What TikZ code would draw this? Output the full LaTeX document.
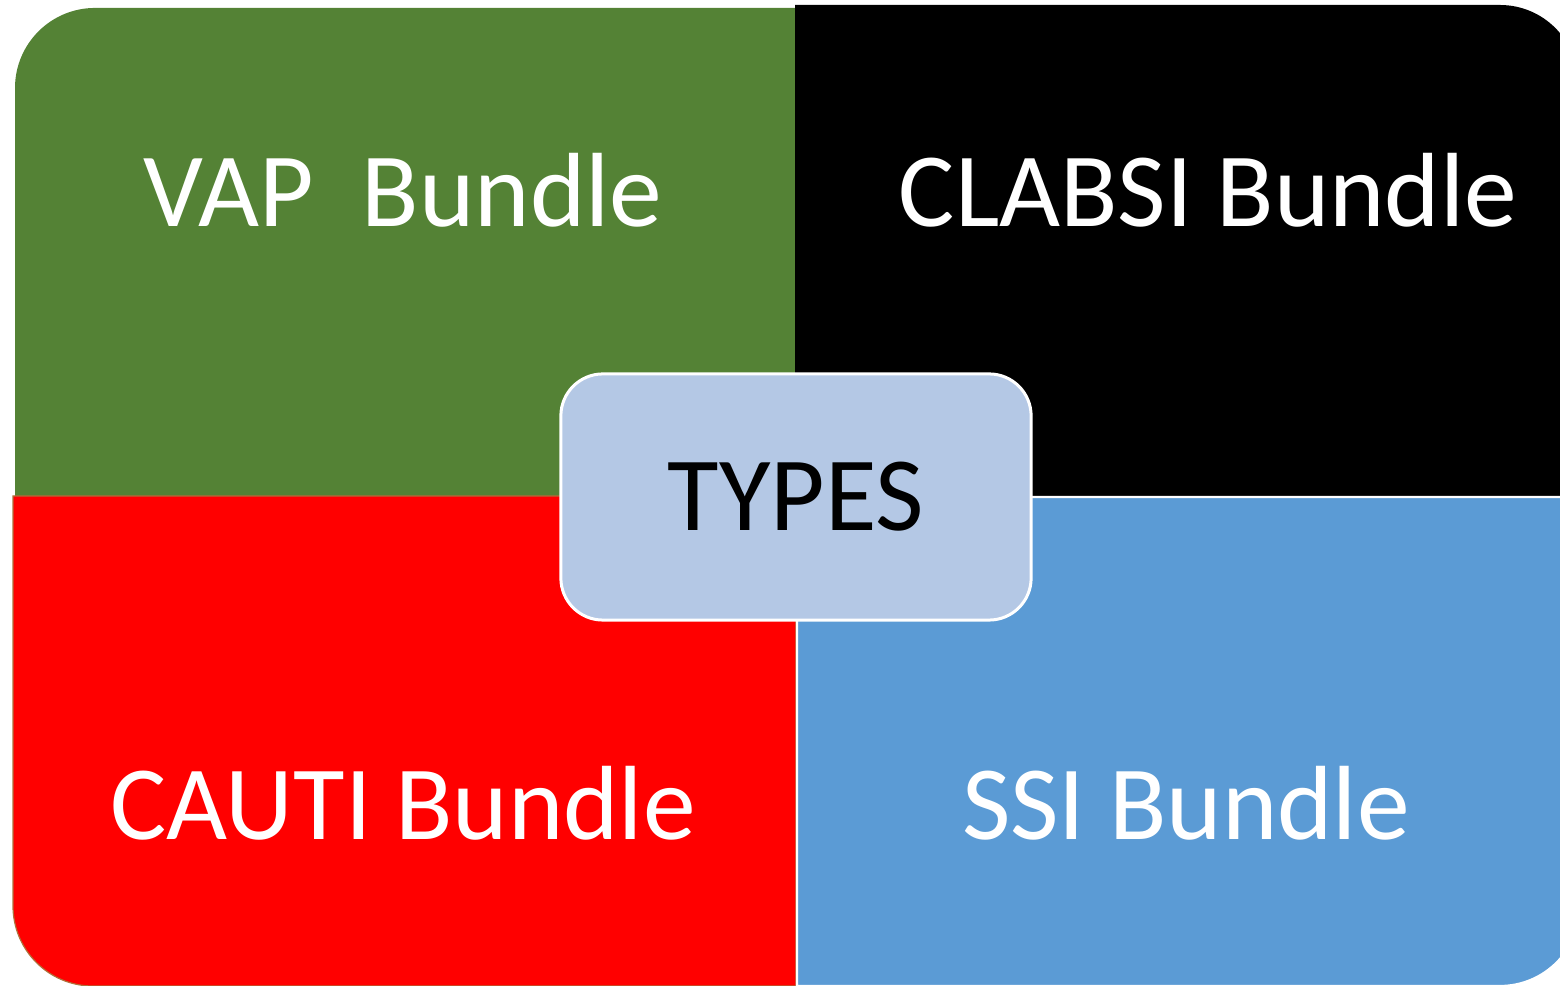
\documentclass[tikz,border=0pt]{standalone}
\usepackage{fontspec}
\setmainfont{Carlito}
\definecolor{qgreen}{HTML}{548235}
\definecolor{qred}{HTML}{FF0000}
\definecolor{qblue}{HTML}{5B9BD5}
\definecolor{qcenter}{HTML}{B4C8E5}
\definecolor{qedge}{HTML}{B0703A}
\tikzset{
  lbl/.style={text=white, font=\fontsize{30}{36}\selectfont, anchor=center, inner sep=0pt},
  centerbox/.style={fill=qcenter, draw=white, line width=0.03cm, rounded corners=0.42cm,
     minimum width=4.7cm, minimum height=2.46cm, font=\fontsize{30}{36}\selectfont, text=black}
}
\begin{document}
\begin{tikzpicture}[x=0.01cm,y=-0.01cm]
\useasboundingbox (0,0) rectangle (1560,986);
% green (top-left)
\fill[qgreen] (15,497) -- (15,88) arc[start angle=180,end angle=90,radius=0.8cm] -- (796,8) -- (796,497) -- cycle;
% black (top-right)
\fill[black] (795,496) -- (795,5) -- (1500,5) arc[start angle=90,end angle=0,radius=0.78cm] -- (1578,496) -- cycle;
% red (bottom-left)
\filldraw[fill=qred, draw=qedge, line width=0.012cm] (13,496) -- (13,906) arc[start angle=180,end angle=270,radius=0.8cm] -- (796,986) -- (796,496) -- cycle;
% blue (bottom-right)
\filldraw[fill=qblue, draw=white, line width=0.022cm] (797,497) -- (797,986) -- (1500,986) arc[start angle=270,end angle=360,radius=0.8cm] -- (1580,497) -- cycle;
\node[lbl] (vap) at (403,190) {VAP\ \ Bundle};
\node[lbl] (clabsi) at (1208,190) {CLABSI Bundle};
\node[lbl] (cauti) at (403,803) {CAUTI Bundle};
\node[lbl] (ssi) at (1186,803) {SSI Bundle};
\node[centerbox] (types) at (796,497) {TYPES};
\end{tikzpicture}
\end{document}
